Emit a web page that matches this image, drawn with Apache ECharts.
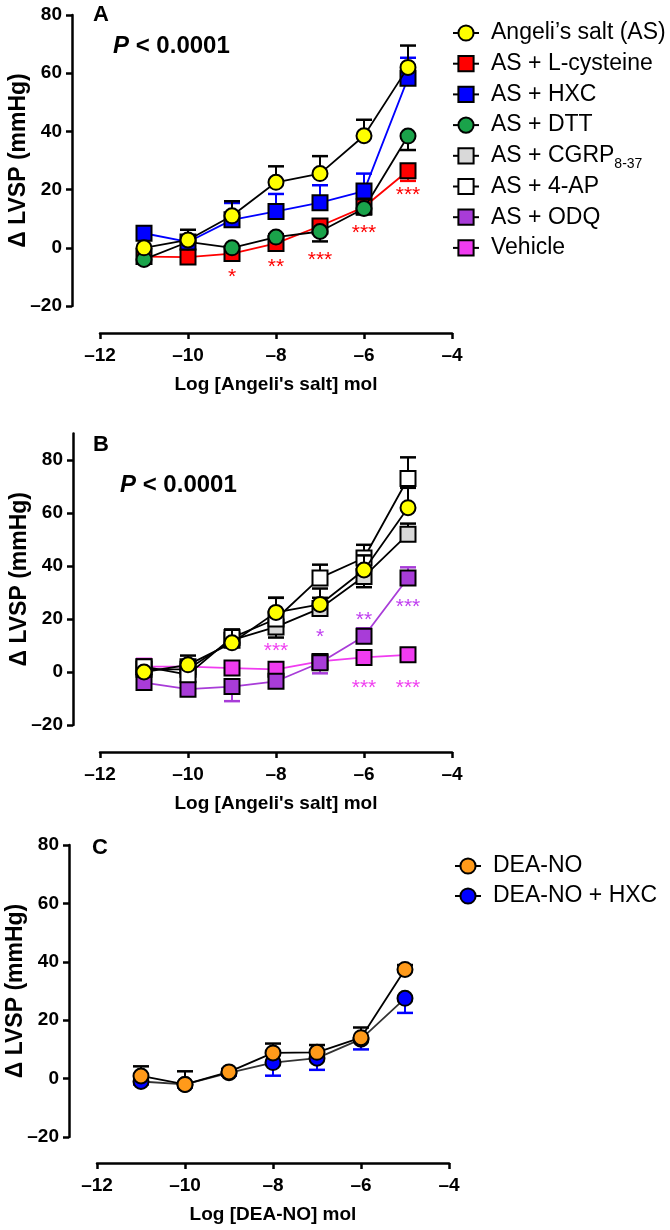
<!DOCTYPE html>
<html><head><meta charset="utf-8">
<script src="https://cdn.jsdelivr.net/npm/echarts@6/dist/echarts.min.js"></script>
<style>html,body{margin:0;padding:0;background:#fff}#c{width:670px;height:1230px}</style>
</head><body><div id="c"></div>
<script>
// ---- data ----
const xVals = [-11, -10, -9, -8, -7, -6, -5];
const xTicks = [-12, -10, -8, -6, -4];
const yTicks = [-20, 0, 20, 40, 60, 80];

// Panel A
const asMean  = [0, 2.7, 11, 22.5, 25.5, 38.5, 62];
const asErr   = [0, 3.5, 5, 5.5, 6, 5.5, 7.5];
const cysMean = [-3, -3.2, -2, 1.5, 7.5, 14, 26.5];
const cysErr  = [-1, -1.5, -2, -1.5, 1.5, -2, -3.5];
const hxcMean = [5, 2, 9.6, 12.5, 15.5, 19.5, 58.3];
const hxcErr  = [2, 1, 5.8, 6, 6, 6, 7];
const dttMean = [-4, 2, 0, 3.7, 5.6, 13.5, 38.4];
const dttErr  = [-1, 1, -1, 1, -3.4, -2, -4.8];
const starsA  = [[-9, -10, '*'], [-8, -6.5, '**'], [-7, -4.2, '***'], [-6, 5, '***'], [-5, 18.2, '***']];

// Panel B
const cgrpMean = [1, 1, 12, 17, 24, 36, 52];
const cgrpErr  = [2, 2, 3, -4, 4, -4, 4];
const apMean   = [2, -1, 13, 20, 35.5, 43, 73];
const apErr    = [2, 2, 3, 8, 5, 5, 8];
const odqMean  = [-4, -6.5, -5.5, -3.5, 3.5, 13.5, 35.5];
const odqErr   = [-1, -2, -5.5, -2, -4, 3, 4];
const vehMean  = [2, 2, 1.5, 1, 4, 5.5, 6.5];
const vehErr   = [3, 1, 2, 1, 1, 1, 1];
const starsBodq = [[-7, 13, '*'], [-6, 19.6, '**'], [-5, 24.5, '***']];
const starsBveh = [[-8, 8, '***'], [-6, -6, '***'], [-5, -6, '***']];

// Panel C
const deaMean  = [0.9, -2, 2.3, 8.8, 9, 14, 37.4];
const deaErr   = [3.3, 4.5, 1, 3.2, 2.5, 3.5, 1.5];
const deaHMean = [-1, -2, 2, 5.5, 7, 13.5, 27.5];
const deaHErr  = [-1, -1, -1, -4.5, -4, -3.5, -5];

const legendA = ['Angeli\u2019s salt (AS)', 'AS + L-cysteine', 'AS + HXC', 'AS + DTT', 'AS + CGRP8-37', 'AS + 4-AP', 'AS + ODQ', 'Vehicle'];
const legendC = ['DEA-NO', 'DEA-NO + HXC'];

// ---- build ----
const FONT = '"Liberation Sans", Arial, sans-serif';
const pts = m => xVals.map((x, i) => [x, m[i]]);
const errPts = (m, e) => xVals.map((x, i) => [x, m[i], e[i]]);
const minus = v => String(v).replace('-', '\u2013');

function lineSeries(name, gi, mean, symbol, fill, lineColor, z) {
  return {
    type: 'line', name, xAxisIndex: gi, yAxisIndex: gi, data: pts(mean),
    symbol, symbolSize: 15, showSymbol: true, z,
    itemStyle: { color: fill, borderColor: '#000', borderWidth: 2 },
    lineStyle: { color: lineColor, width: 1.8 },
    emphasis: { disabled: true }, animation: false
  };
}
function errSeries(gi, mean, err, color, z) {
  return {
    type: 'custom', xAxisIndex: gi, yAxisIndex: gi, data: errPts(mean, err), z, clip: false,
    renderItem: (params, api) => {
      const x = api.value(0), y = api.value(1), e = api.value(2);
      if (!e) return null;
      const p0 = api.coord([x, y]), p1 = api.coord([x, y + e]);
      return { type: 'group', children: [
        { type: 'line', shape: { x1: p0[0], y1: p0[1], x2: p1[0], y2: p1[1] }, style: { stroke: color, lineWidth: 2 } },
        { type: 'line', shape: { x1: p1[0] - 8, y1: p1[1], x2: p1[0] + 8, y2: p1[1] }, style: { stroke: color, lineWidth: 2.5 } }
      ]};
    }, animation: false
  };
}
function starSeries(gi, stars, color) {
  return {
    type: 'custom', xAxisIndex: gi, yAxisIndex: gi, data: stars, z: 20, clip: false,
    renderItem: (params, api) => {
      const p = api.coord([api.value(0), api.value(1)]);
      const s = stars[params.dataIndex][2];
      return { type: 'text', x: p[0], y: p[1],
        style: { text: s, fill: color, font: '21px ' + FONT, align: 'center', verticalAlign: 'middle' } };
    }, animation: false
  };
}
function xAxis(gi, name, offset) {
  return {
    type: 'value', gridIndex: gi, min: -12, max: -4, interval: 2, offset,
    name, nameLocation: 'middle', nameGap: 42, nameMoveOverlap: false,
    nameTextStyle: { color: '#000', fontWeight: 'bold', fontSize: 19, fontFamily: FONT },
    axisLine: { onZero: false, lineStyle: { color: '#000', width: 2.5 } },
    axisTick: { length: 6, lineStyle: { color: '#000', width: 2.5 } },
    axisLabel: { color: '#000', fontWeight: 'bold', fontSize: 19, fontFamily: FONT, margin: 13, formatter: minus },
    splitLine: { show: false }
  };
}
function yAxis(gi, max, offset) {
  return {
    type: 'value', gridIndex: gi, min: -20, max, interval: 20, offset,
    name: '\u0394 LVSP (mmHg)', nameLocation: 'middle', nameGap: 42, nameRotate: 90, nameMoveOverlap: false,
    nameTextStyle: { color: '#000', fontWeight: 'bold', fontSize: 23, fontFamily: FONT },
    axisLine: { show: true, onZero: false, lineStyle: { color: '#000', width: 2.5 } },
    axisTick: { show: true, length: 6, lineStyle: { color: '#000', width: 2.5 }, customValues: yTicks },
    axisLabel: { color: '#000', fontWeight: 'bold', fontSize: 19, fontFamily: FONT, margin: 10, formatter: minus, customValues: yTicks },
    splitLine: { show: false }
  };
}
const legendText = {
  color: '#000', fontFamily: FONT, fontSize: 23, lineHeight: 30,
  rich: {
    n: { fontSize: 23, lineHeight: 30, padding: [0, 0, 0, 7], fontFamily: FONT, color: '#000' },
    s: { fontSize: 14, lineHeight: 14, verticalAlign: 'bottom', fontFamily: FONT, color: '#000' }
  }
};
const legendFmt = name => name === 'AS + CGRP8-37' ? '{n|AS + CGRP}{s|8-37}' : '{n|' + name + '}';

const RED = '#ff0000', BLUE = '#0000ff', YEL = '#ffff00', GRN = '#1aa34a';
const ODQ = '#a83cd8', VEH = '#f03cf0', ORG = '#ff9a1a', CGRP = '#d9d9d9';

const gridBase = { outerBoundsMode: 'none', containLabel: false };
const option = {
  animation: false,
  grid: [
    Object.assign({ left: 100, top: 15, width: 352, height: 291 }, gridBase),
    Object.assign({ left: 100, top: 433.5, width: 352, height: 291.5 }, gridBase),
    Object.assign({ left: 97, top: 845, width: 352, height: 292 }, gridBase)
  ],
  xAxis: [xAxis(0, "Log [Angeli's salt] mol", 27), xAxis(1, "Log [Angeli's salt] mol", 27), xAxis(2, 'Log [DEA-NO] mol', 26)],
  yAxis: [yAxis(0, 80, 28), yAxis(1, 90, 27), yAxis(2, 80, 28)],
  legend: [
    { data: legendA, orient: 'vertical', left: 452, top: 18, padding: 0, itemWidth: 26, itemHeight: 19, itemGap: 0.7,
      lineStyle: { color: '#000', width: 2 }, textStyle: legendText, formatter: legendFmt, selectedMode: false },
    { data: legendC, orient: 'vertical', left: 454, top: 851, padding: 0, itemWidth: 26, itemHeight: 19, itemGap: 0,
      lineStyle: { color: '#000', width: 2 }, textStyle: Object.assign({}, legendText, { lineHeight: 28 }), formatter: legendFmt, selectedMode: false }
  ],
  graphic: [
    { type: 'text', left: 93, top: 4, style: { text: 'A', font: 'bold 22px ' + FONT, fill: '#000' } },
    { type: 'text', left: 113, top: 34, style: { text: '{i|P} < 0.0001', fill: '#000', rich: { i: { fontStyle: 'italic', fontWeight: 'bold', fontSize: 24, fontFamily: FONT } }, font: 'bold 24px ' + FONT } },
    { type: 'text', left: 93, top: 434, style: { text: 'B', font: 'bold 22px ' + FONT, fill: '#000' } },
    { type: 'text', left: 120, top: 473, style: { text: '{i|P} < 0.0001', fill: '#000', rich: { i: { fontStyle: 'italic', fontWeight: 'bold', fontSize: 24, fontFamily: FONT } }, font: 'bold 24px ' + FONT } },
    { type: 'text', left: 92, top: 837, style: { text: 'C', font: 'bold 22px ' + FONT, fill: '#000' } }
  ],
  series: [
    // Panel A (drawn bottom to top)
    errSeries(0, cysMean, cysErr, RED, 3), lineSeries(legendA[1], 0, cysMean, 'rect', RED, RED, 4),
    errSeries(0, dttMean, dttErr, '#000', 5), lineSeries(legendA[3], 0, dttMean, 'circle', GRN, '#000', 6),
    errSeries(0, hxcMean, hxcErr, BLUE, 7), lineSeries(legendA[2], 0, hxcMean, 'rect', BLUE, BLUE, 8),
    errSeries(0, asMean, asErr, '#000', 9), lineSeries(legendA[0], 0, asMean, 'circle', YEL, '#000', 10),
    starSeries(0, starsA, RED),
    // Panel B
    errSeries(1, vehMean, vehErr, VEH, 3), lineSeries(legendA[7], 1, vehMean, 'rect', VEH, VEH, 4),
    errSeries(1, odqMean, odqErr, ODQ, 5), lineSeries(legendA[6], 1, odqMean, 'rect', ODQ, ODQ, 6),
    errSeries(1, cgrpMean, cgrpErr, '#000', 7), lineSeries(legendA[4], 1, cgrpMean, 'rect', CGRP, '#000', 8),
    errSeries(1, apMean, apErr, '#000', 9), lineSeries(legendA[5], 1, apMean, 'rect', '#fff', '#000', 10),
    errSeries(1, asMean, asErr, '#000', 11), lineSeries(legendA[0], 1, asMean, 'circle', YEL, '#000', 12),
    starSeries(1, starsBodq, '#c040f0'), starSeries(1, starsBveh, '#f040f0'),
    // Panel C
    errSeries(2, deaHMean, deaHErr, BLUE, 3), lineSeries(legendC[1], 2, deaHMean, 'circle', BLUE, '#333', 4),
    errSeries(2, deaMean, deaErr, '#000', 5), lineSeries(legendC[0], 2, deaMean, 'circle', ORG, '#000', 6)
  ]
};
const chart = echarts.init(document.getElementById('c'), null, { renderer: 'canvas' });
chart.setOption(option);
</script>
</body></html>
